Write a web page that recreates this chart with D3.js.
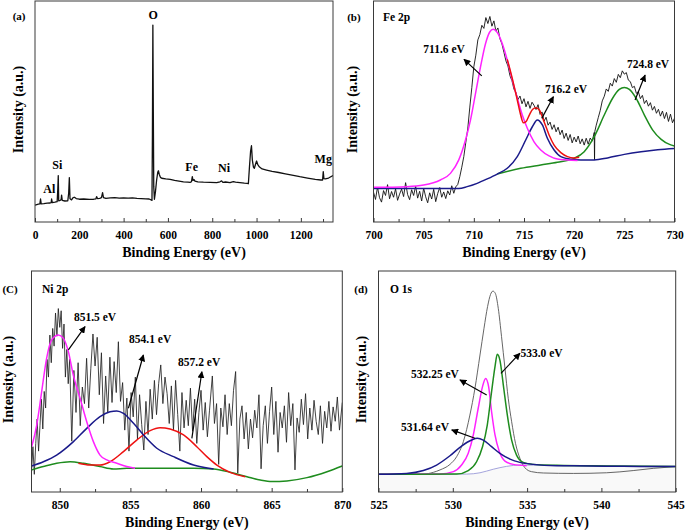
<!DOCTYPE html>
<html><head><meta charset="utf-8">
<script src="https://cdn.jsdelivr.net/npm/d3@7"></script>
<style>
body{margin:0;background:#fff}
svg{display:block}
text{font-family:"Liberation Serif","Times New Roman",serif;font-weight:bold;fill:#000}
</style>
</head><body>
<svg id="chart" width="685" height="530"></svg>
<script>
// ---------------- DATA ----------------
// (a) survey spectrum: [binding energy eV, intensity a.u.]
const surveyData = [[0,7.6],[8,7.9],[15,8.1],[22,8.2],[25,10.4],[28,8.2],[40,8.3],[55,8.5],[68,8.6],[73,8.8],[75,10.4],[78,8.8],[90,9.0],[100,9.2],[103,15],[105,21.0],[107,9.6],[114,9.8],[118,10.2],[120,12.2],[123,9.8],[135,9.5],[148,9.6],[152,13],[155,20.1],[158,10.5],[165,10.0],[172,11.0],[178,11.2],[186,10.6],[200,10.3],[220,10.4],[245,10.2],[265,10.3],[275,10.5],[278,11.5],[282,10.6],[292,10.7],[300,11.0],[305,13.3],[309,11.0],[320,10.7],[340,10.9],[360,11.0],[380,10.8],[400,10.9],[420,10.8],[440,10.9],[460,10.7],[480,10.6],[500,10.5],[515,10.4],[524,10.0],[528,9.8],[530,40],[532,89.1],[534,50],[536,16],[539,10.3],[544,14],[549,19],[554,22.5],[557,23.2],[561,21.5],[566,20.2],[572,19.8],[590,19.5],[610,19.3],[630,18.8],[650,18.5],[670,18.2],[690,18.0],[700,17.9],[706,18.2],[710,20.5],[713,18.8],[718,19.2],[722,18.5],[735,18.2],[760,18.0],[790,17.9],[820,17.8],[835,18.2],[842,18.6],[848,17.9],[860,18.1],[880,17.8],[895,18.3],[905,18.0],[925,17.8],[945,17.6],[958,17.5],[963,17.3],[968,25],[973,32],[977,34.5],[981,28],[986,24.8],[990,24.3],[995,26],[1000,27.6],[1005,26.1],[1012,25.0],[1025,24.0],[1045,23.5],[1070,22.9],[1100,22.4],[1130,21.8],[1160,21.2],[1195,20.5],[1230,19.9],[1265,19.3],[1290,19.0],[1298,19.0],[1301,22.8],[1304,19.6],[1310,19.5],[1325,19.9],[1345,21.0]];
const surveyLabels = [["O",533.8,93.7],["Si",100.6,25.8],["Al",64.5,14.9],["Fe",707,25.0],["Ni",853,24.3],["Mg",1301,28.4]];
const surveyTicks = [0,200,400,600,800,1000,1200];
const surveyMinor = [100,300,500,700,900,1100,1300];

// (b) Fe 2p
const feData = [[700.0,13.5],[700.2,10.2],[700.4,15.8],[700.6,11.0],[700.8,9.0],[701.0,14.2],[701.2,12.0],[701.4,16.9],[701.6,10.5],[701.8,13.8],[702.0,11.2],[702.2,15.0],[702.4,9.8],[702.6,12.6],[702.8,14.9],[703.0,11.5],[703.2,17.8],[703.4,12.4],[703.6,10.1],[703.8,14.6],[704.0,12.0],[704.2,16.2],[704.4,10.8],[704.6,13.9],[704.8,9.5],[705.0,15.3],[705.2,11.4],[705.4,8.7],[705.6,13.2],[705.8,10.4],[706.0,14.8],[706.2,9.2],[706.4,12.9],[706.6,15.6],[706.8,11.2],[707.0,13.6],[707.2,10.6],[707.4,14.1],[707.6,12.2],[707.8,16.4],[708.0,13.0],[708.2,15.9],[708.4,17.0],[708.6,20.5],[708.8,24.8],[709.0,29.6],[709.2,36.0],[709.4,42.5],[709.6,52.0],[709.8,60.8],[710.0,70.3],[710.2,75.5],[710.4,82.4],[710.6,84.8],[710.8,89.0],[711.0,87.6],[711.2,92.5],[711.4,89.8],[711.6,93.0],[711.8,88.6],[712.0,91.0],[712.2,86.4],[712.4,87.8],[712.6,82.9],[712.8,80.6],[713.0,76.8],[713.2,72.9],[713.4,70.6],[713.6,66.2],[713.8,63.9],[714.0,60.1],[714.2,58.6],[714.4,55.4],[714.6,57.0],[714.8,53.5],[715.0,55.8],[715.2,52.1],[715.4,54.6],[715.6,51.4],[715.8,54.2],[716.0,52.8],[716.2,50.9],[716.4,53.1],[716.6,48.7],[716.8,49.8],[717.0,45.6],[717.2,47.4],[717.4,43.8],[717.6,45.2],[717.8,41.9],[718.0,44.0],[718.2,40.8],[718.4,42.9],[718.6,39.5],[718.8,41.6],[719.0,37.8],[719.2,40.2],[719.4,36.9],[719.6,39.6],[719.8,35.8],[720.0,38.4],[720.2,36.2],[720.4,38.9],[720.6,35.4],[720.8,37.6],[721.0,34.8],[721.2,37.9],[721.4,35.2],[721.6,38.0],[721.8,36.6],[722.0,40.5],[722.03,28.1],[722.06,41.0],[722.2,43.8],[722.4,47.2],[722.6,50.5],[722.8,54.8],[723.0,56.9],[723.2,60.2],[723.4,59.1],[723.6,62.8],[723.8,61.5],[724.0,64.9],[724.2,63.2],[724.4,66.8],[724.6,65.3],[724.8,68.4],[725.0,66.9],[725.2,67.6],[725.4,64.2],[725.6,63.5],[725.8,60.8],[726.0,61.4],[726.2,58.2],[726.4,59.0],[726.6,55.8],[726.8,57.3],[727.0,53.6],[727.2,55.1],[727.4,52.4],[727.6,54.0],[727.8,50.6],[728.0,52.3],[728.2,49.2],[728.4,51.0],[728.6,47.9],[728.8,50.2],[729.0,46.8],[729.2,49.6],[729.4,45.5],[729.6,48.8],[729.8,44.9],[730.0,47.0]];
const feMagenta = [[700,15.7],[703.33,16.0],[705,16.7],[706.67,19.0],[707.67,22.0],[708.5,28.1],[709.17,37.1],[709.67,46.2],[710.17,58.2],[710.67,70.3],[711.17,80.8],[711.6,86.1],[711.93,87.2],[712.33,85.8],[712.83,80.8],[713.33,73.3],[713.83,64.3],[714.33,56.0],[714.83,48.4],[715.33,42.4],[716,36.3],[716.67,32.6],[717.5,29.9],[718.33,28.5],[719.33,28.1],[720.33,27.8]];
const feRed = [[713.33,73.6],[713.83,65.0],[714.33,55.2],[714.67,48.4],[714.93,44.9],[715.2,45.4],[715.53,48.4],[715.87,51.0],[716.2,51.7],[716.53,50.7],[717,45.4],[717.5,39.4],[718,34.8],[718.67,31.4],[719.33,29.6],[720,29.0],[720.5,29.3]];
const feNavy = [[700,15.2],[705,15.2],[708.5,15.2],[709.33,16.0],[710.33,17.5],[711.33,19.5],[712.33,21.7],[713.33,24.3],[714.33,29.6],[715.17,37.1],[715.83,43.1],[716.33,46.2],[716.83,43.9],[717.33,37.9],[718,32.6],[718.67,29.6],[719.67,28.4],[720.67,28.1],[722,28.1],[723.33,29.0],[725,30.6],[726.67,31.8],[728.33,32.7],[730,33.3]];
const feGreen = [[712.33,21.7],[714.67,24.3],[716.67,25.8],[718.33,27.0],[720,28.8],[721,31.8],[722,38.6],[723,48.4],[723.83,56.0],[724.5,60.0],[725,60.9],[725.5,60.0],[726.17,56.0],[727,48.4],[727.83,41.6],[728.67,37.4],[729.5,35.1],[730,34.4]];
const feLabels = [["711.6 eV",707.03,78.3,710.79,66.1,709.02,73.6],["716.2 eV",719.19,60.2,716.77,46.9,717.93,56.7],["724.8 eV",727.37,71.5,726.07,55.2,727.07,66.5]];
const feTicks = [700,705,710,715,720,725,730];
const feMinor = [702.5,707.5,712.5,717.5,722.5,727.5];

// (c) Ni 2p
const niData = [[848.00,9.0],[848.10,20.5],[848.20,8.0],[848.30,22.0],[848.40,33.0],[848.50,18.5],[848.60,30.0],[848.70,42.0],[848.80,28.5],[848.90,45.5],[849.00,38.0],[849.10,60.0],[849.20,52.0],[849.30,71.0],[849.40,58.5],[849.50,74.0],[849.60,66.0],[849.70,81.0],[849.80,70.5],[849.90,83.0],[850.00,74.5],[850.10,82.0],[850.20,65.0],[850.30,76.0],[850.40,52.0],[850.50,64.5],[850.60,49.0],[850.70,60.0],[850.85,23.0],[851.00,55.0],[851.15,36.0],[851.30,58.5],[851.45,30.0],[851.60,47.5],[851.75,40.0],[851.90,60.5],[852.05,38.0],[852.20,56.0],[852.35,71.5],[852.50,57.0],[852.65,70.0],[852.80,44.0],[852.95,63.0],[853.10,31.0],[853.25,52.5],[853.40,36.0],[853.55,61.0],[853.70,40.5],[853.85,59.0],[854.00,45.0],[854.15,68.0],[854.30,41.0],[854.45,49.5],[854.60,28.0],[854.75,42.5],[854.90,18.5],[855.05,45.0],[855.20,34.0],[855.35,52.0],[855.50,24.0],[855.65,44.0],[855.80,30.5],[855.95,19.0],[856.10,41.0],[856.25,26.0],[856.40,46.5],[856.55,33.0],[856.70,50.5],[856.85,35.0],[857.00,49.0],[857.15,57.5],[857.30,40.0],[857.45,52.0],[857.60,44.5],[857.75,31.0],[857.90,48.0],[858.05,28.0],[858.20,50.5],[858.35,35.0],[858.50,18.5],[858.65,45.0],[858.80,29.0],[858.95,41.5],[859.10,30.0],[859.25,47.0],[859.40,27.5],[859.55,42.0],[859.70,22.0],[859.85,36.0],[860.00,46.0],[860.15,28.0],[860.30,40.5],[860.45,25.0],[860.60,37.0],[860.80,52.5],[860.95,31.0],[861.10,40.0],[861.25,12.5],[861.40,38.0],[861.55,29.5],[861.70,44.0],[861.85,26.0],[862.00,40.0],[862.15,30.0],[862.30,46.0],[862.45,54.5],[862.60,8.5],[862.75,33.0],[862.90,39.0],[863.05,24.0],[863.20,36.0],[863.35,19.5],[863.50,33.0],[863.65,24.5],[863.80,37.0],[863.95,29.0],[864.10,44.0],[864.25,10.5],[864.40,30.0],[864.55,39.0],[864.70,22.0],[864.85,36.5],[865.00,47.5],[865.15,26.0],[865.30,41.0],[865.45,18.0],[865.60,36.0],[865.75,29.0],[865.90,39.0],[866.05,22.5],[866.20,45.0],[866.35,30.0],[866.50,40.0],[866.65,10.0],[866.80,33.5],[866.95,27.0],[867.10,42.0],[867.25,30.5],[867.40,44.5],[867.55,24.0],[867.70,38.0],[867.85,28.0],[868.00,41.5],[868.15,32.0],[868.30,26.0],[868.45,39.0],[868.60,22.0],[868.75,36.5],[868.90,29.0],[869.05,41.0],[869.20,27.5],[869.35,38.5],[869.50,32.0],[869.65,43.0],[869.80,28.0],[870.00,40.5]];
const niMagenta = [[848.01,20.5],[848.37,30.3],[848.72,45.4],[849.07,60.5],[849.43,68.8],[849.9,71.0],[850.26,69.5],[850.61,63.5],[850.96,52.9],[851.44,42.4],[851.91,31.8],[852.38,22.8],[852.85,16.7],[853.33,14.5],[854.04,13.0],[854.74,11.5],[855.33,10.7]];
const niBlue = [[848.01,11.8],[848.84,13.7],[849.78,16.7],[850.97,22.8],[851.91,28.8],[852.85,34.1],[853.56,36.3],[854.04,36.7],[854.51,35.6],[855.22,31.1],[855.93,25.8],[856.87,19.8],[858.05,16.0],[859.47,12.2],[860.89,10.4]];
const niRed = [[851.32,13.0],[852.15,12.2],[852.85,12.2],[853.56,13.7],[854.51,18.3],[855.45,23.5],[856.4,27.8],[857.1,29.1],[857.81,28.5],[858.76,25.8],[859.7,20.5],[860.41,16.0],[861.12,12.2],[862.06,8.9],[863.13,6.9]];
const niGreen = [[848.01,10.0],[848.84,11.5],[849.78,13.0],[850.73,13.7],[851.67,13.0],[852.85,11.5],[853.8,10.4],[854.74,10.7],[855.69,10.7],[857.58,10.7],[859.47,10.7],[860.89,10.4],[862.06,8.9],[863.25,6.9],[864.19,5.4],[865.02,4.7],[866.08,5.0],[867.5,6.5],[868.92,9.2],[870,11.8]];
const niLabels = [["851.5 eV",852.5,79.2,850.61,64.3,851.79,74.8],["854.1 eV",856.4,69.2,854.86,37.9,855.92,62.0],["857.2 eV",859.87,58.8,859.35,24.3,860.06,54.4]];
const niTicks = [850,855,860,865,870];
const niMinor = [852.5,857.5,862.5,867.5];

// (d) O 1s
const oEnvelope = [[525,8.0],[528.02,8.1],[528.69,8.9],[529.14,10.0],[529.81,12.5],[530.26,16.0],[530.71,22.8],[531.15,34.8],[531.49,46.9],[531.83,62.0],[532.1,74.1],[532.34,83.9],[532.54,89.4],[532.7,90.9],[532.86,89.9],[533.06,83.1],[533.28,70.3],[533.51,56.0],[533.73,42.4],[533.96,31.8],[534.22,22.0],[534.52,15.2],[534.85,11.0],[535.3,9.2],[536.09,8.6],[538.11,8.4],[540.35,8.7],[542.14,9.7],[543.49,10.7],[545,11.5]];
const oBlue = [[525,8.0],[526.89,8.4],[528.02,9.7],[528.91,12.2],[529.81,16.4],[530.59,20.8],[531.27,23.5],[531.65,24.3],[532.05,23.5],[532.61,20.5],[533.17,17.5],[533.85,14.9],[534.52,13.4],[535.42,12.5],[536.99,11.9],[539.23,11.8],[541.47,11.6],[545,11.5]];
const oMagenta = [[525,8.0],[529.14,8.1],[530.04,9.2],[530.59,12.2],[531.04,17.5],[531.38,25.8],[531.71,37.9],[532.0,47.7],[532.21,51.4],[532.41,47.7],[532.61,36.3],[532.84,25.8],[533.13,18.3],[533.51,14.0],[534.07,12.5],[534.97,11.9]];
const oGreen = [[525,8.0],[530.26,8.1],[531.04,9.7],[531.6,13.7],[532.0,20.5],[532.32,30.3],[532.61,45.4],[532.84,56.7],[532.99,62.3],[533.17,59.7],[533.4,48.4],[533.67,34.8],[533.96,23.5],[534.29,16.7],[534.74,13.4],[535.42,12.5],[536.99,12.1],[540.35,11.8],[545,11.5]];
const oBase = [[525,8.0],[530.93,8.1],[531.83,8.7],[532.72,10.3],[533.62,11.6],[534.52,12.2],[535.87,12.1],[545,11.6]];
const oLabels = [["533.0 eV",535.97,62.9,533.24,53.7,534.52,62.8],["532.25 eV",528.8,53.4,532.28,43.9,530.48,50.7],["531.64 eV",528.13,29.4,531.49,24.3,529.93,28.1]];
const oTicks = [525,530,535,540,545];
const oMinor = [527.5,532.5,537.5,542.5];

// ---------------- DRAW ----------------
const svg = d3.select('#chart');
const defs = svg.append('defs');
defs.append('marker').attr('id','arr').attr('viewBox','0 0 10 10').attr('refX',9).attr('refY',5)
  .attr('markerWidth',7).attr('markerHeight',7).attr('markerUnits','userSpaceOnUse').attr('orient','auto')
  .append('path').attr('d','M0,0L10,5L0,10z').attr('fill','#000');

function drawPanel(cfg){
  const x = d3.scaleLinear().domain(cfg.xDomain).range([cfg.left, cfg.right]);
  const y = d3.scaleLinear().domain([0,100]).range([cfg.bottom, cfg.top]);
  const g = svg.append('g');
  const clipId = 'clip'+cfg.id;
  defs.append('clipPath').attr('id',clipId).append('rect')
    .attr('x',cfg.left).attr('y',cfg.top).attr('width',cfg.right-cfg.left).attr('height',cfg.bottom-cfg.top);
  const pg = g.append('g').attr('clip-path',`url(#${clipId})`);
  if (cfg.fillUnder){
    pg.append('path').datum(cfg.fillUnder)
      .attr('d', d3.area().x(d=>x(d[0])).y0(cfg.bottom).y1(d=>y(d[1])).curve(d3.curveMonotoneX))
      .attr('fill','#f9f9f9');
  }
  cfg.series.forEach(s=>{
    pg.append('path').datum(s.data)
      .attr('d', d3.line().x(d=>x(d[0])).y(d=>y(d[1])).curve(s.smooth ? d3.curveMonotoneX : d3.curveLinear))
      .attr('fill','none').attr('stroke',s.color).attr('stroke-width',s.width).attr('stroke-linejoin','round');
  });
  // frame
  g.append('rect').attr('x',cfg.left).attr('y',cfg.top).attr('width',cfg.right-cfg.left).attr('height',cfg.bottom-cfg.top)
    .attr('fill','none').attr('stroke','#3a3a3a').attr('stroke-width',1);
  // axes
  const ax = g.append('g').attr('transform',`translate(0,${cfg.bottom})`)
    .call(d3.axisBottom(x).tickValues(cfg.ticks).tickSizeInner(-4).tickSizeOuter(0).tickPadding(9).tickFormat(d3.format('d')));
  ax.select('.domain').remove();
  ax.selectAll('line').attr('stroke','#3a3a3a');
  ax.selectAll('text').attr('font-family','"Liberation Serif",serif').attr('font-weight','bold').attr('font-size',11.5).attr('fill','#000');
  const mx = g.append('g').attr('transform',`translate(0,${cfg.bottom})`)
    .call(d3.axisBottom(x).tickValues(cfg.minor).tickSizeInner(-3).tickSizeOuter(0).tickFormat(''));
  mx.select('.domain').remove();
  mx.selectAll('line').attr('stroke','#3a3a3a');
  // titles
  g.append('text').attr('x',(cfg.left+cfg.right)/2).attr('y',cfg.bottom+30).attr('text-anchor','middle')
    .attr('dominant-baseline','central').attr('font-size',14).text('Binding Energy (eV)');
  g.append('text').attr('transform',`translate(${cfg.yLabelX},${(cfg.top+cfg.bottom)/2-2}) rotate(-90)`)
    .attr('text-anchor','middle').attr('dominant-baseline','central').attr('font-size',14).text('Intensity (a.u.)');
  // panel tag
  g.append('text').attr('x',x(cfg.tag[1])).attr('y',y(cfg.tag[2])).attr('text-anchor','middle')
    .attr('dominant-baseline','central').attr('font-size',11).text(cfg.tag[0]);
  if (cfg.title){
    g.append('text').attr('x',x(cfg.title[1])).attr('y',y(cfg.title[2]))
      .attr('dominant-baseline','central').attr('font-size',11.5).text(cfg.title[0]);
  }
  // peak labels with arrows
  (cfg.peaks||[]).forEach(p=>{
    g.append('line').attr('x1',x(p[3])).attr('y1',y(p[4])).attr('x2',x(p[5])).attr('y2',y(p[6]))
      .attr('stroke','#000').attr('stroke-width',1.2).attr('marker-end','url(#arr)');
    g.append('text').attr('x',x(p[1])).attr('y',y(p[2])).attr('text-anchor','middle')
      .attr('dominant-baseline','central').attr('font-size',11.5).text(p[0]);
  });
  (cfg.elements||[]).forEach(e=>{
    g.append('text').attr('x',x(e[1])).attr('y',y(e[2])).attr('text-anchor','middle')
      .attr('dominant-baseline','central').attr('font-size',12).text(e[0]);
  });
}

drawPanel({id:'a', xDomain:[0,1345], left:35, right:333, top:1, bottom:222, yLabelX:18,
  ticks:surveyTicks, minor:surveyMinor, tag:['(a)',-72,93.2], elements:surveyLabels,
  series:[{data:surveyData,color:'#111',width:1.3}]});

drawPanel({id:'b', xDomain:[700,730], left:373.5, right:674.5, top:1, bottom:222, yLabelX:352,
  ticks:feTicks, minor:feMinor, tag:['(b)',698.05,92.8], title:['Fe 2p',700.95,92.8], peaks:feLabels,
  series:[{data:feData,color:'#111',width:0.9},
          {data:feGreen,color:'#1e8c1e',width:1.5,smooth:true},
          {data:feNavy,color:'#1a1a8a',width:1.5,smooth:true},
          {data:feMagenta,color:'#ff22ff',width:1.5,smooth:true},
          {data:feRed,color:'#ee1111',width:1.5,smooth:true}]});

drawPanel({id:'c', xDomain:[848,870], left:31.5, right:342.3, top:271, bottom:492, yLabelX:8,
  ticks:niTicks, minor:niMinor, tag:['(C)',846.48,91.9], title:['Ni 2p',848.74,91.9], peaks:niLabels,
  series:[{data:niData,color:'#222',width:0.85},
          {data:niGreen,color:'#1e8c1e',width:1.5,smooth:true},
          {data:niRed,color:'#ee1111',width:1.5,smooth:true},
          {data:niBlue,color:'#1a1a8a',width:1.5,smooth:true},
          {data:niMagenta,color:'#ff22ff',width:1.5,smooth:true}]});

drawPanel({id:'d', xDomain:[525,545], left:378.5, right:675.7, top:271, bottom:492, yLabelX:361,
  ticks:oTicks, minor:oMinor, tag:['(d)',523.82,91.9], title:['O 1s',525.77,91.9], peaks:oLabels,
  fillUnder:oBase,
  series:[{data:oBase,color:'#9a9ad8',width:0.9,smooth:true},
          {data:oEnvelope,color:'#555',width:0.9,smooth:true},
          {data:oMagenta,color:'#ff22ff',width:1.5,smooth:true},
          {data:oGreen,color:'#1e8c1e',width:1.5,smooth:true},
          {data:oBlue,color:'#1a1a8a',width:1.5,smooth:true}]});
</script>
</body></html>
